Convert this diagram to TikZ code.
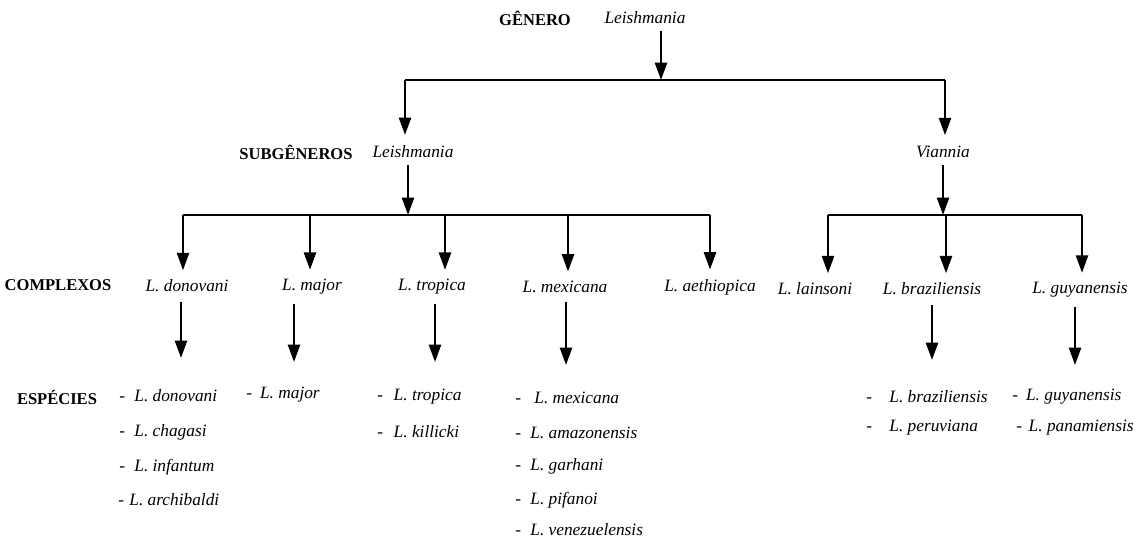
\documentclass[tikz,border=0pt]{standalone}
\usepackage{fontspec}
\setmainfont{Liberation Serif}
\usetikzlibrary{arrows.meta}
\begin{document}
\begin{tikzpicture}[x=0.75pt,y=-0.75pt,
  lbl/.style={font=\fontsize{12.4}{14}\selectfont\bfseries, inner sep=1pt},
  tx/.style={font=\fontsize{13}{15}\selectfont\itshape, inner sep=1pt},
  sp/.style={font=\fontsize{13}{15}\selectfont, anchor=west, inner sep=0pt},
  arr/.style={line width=1.8pt, -{Triangle[width=9pt,length=13pt]}},
  bus/.style={line width=1.6pt}]
\useasboundingbox (0,0) rectangle (1141,538);
% level labels
\node[lbl] (lg) at (535,18) {GÊNERO};
\node[lbl] (ls) at (296,152) {SUBGÊNEROS};
\node[lbl] (lc) at (58,285) {COMPLEXOS};
\node[lbl] (le) at (57,397) {ESPÉCIES};
% genus
\node[tx] (gen) at (645,18) {Leishmania};
\coordinate (j0) at (661,80);
\coordinate (jL) at (405,80);
\coordinate (jR) at (945,80);
\draw[arr] ([yshift=-4pt]gen.south -| j0) -- (j0);
\draw[bus] (jL) -- (jR);
% subgenera
\node[tx] (subL) at (413,152) {Leishmania};
\node[tx] (subV) at (943,152) {Viannia};
\draw[arr] (jL) -- (jL |- subL.north) [shorten >=7pt];
\draw[arr] (jR) -- (jR |- subV.north) [shorten >=7pt];
% buses for complexes
\coordinate (j1) at (408,215);
\coordinate (j2) at (943,215);
\draw[arr] ([yshift=-4pt]subL.south -| j1) -- (j1);
\draw[arr] ([yshift=-4pt]subV.south -| j2) -- (j2);
\coordinate (b1) at (183,215);
\coordinate (b2) at (310,215);
\coordinate (b3) at (445,215);
\coordinate (b4) at (568,215);
\coordinate (b5) at (710,215);
\coordinate (b6) at (828,215);
\coordinate (b7) at (946,215);
\coordinate (b8) at (1082,215);
\draw[bus] (b1) -- (b5);
\draw[bus] (b6) -- (b8);
% complexes
\node[tx] (c1) at (187,286) {L. donovani};
\node[tx] (c2) at (312,287) {L. major};
\node[tx] (c3) at (432,287) {L. tropica};
\node[tx] (c4) at (565,287) {L. mexicana};
\node[tx] (c5) at (710,287) {L. aethiopica};
\node[tx] (c6) at (815,289) {L. lainsoni};
\node[tx] (c7) at (932,289) {L. braziliensis};
\node[tx] (c8) at (1080,290) {L. guyanensis};
\foreach \i in {1,...,8}{
  \draw[arr] (b\i) -- (b\i |- c\i.north) [shorten >=6pt];
}
% species
\node[sp] (s1a) at (119,396) {-\hspace{7pt}\textit{L. donovani}};
\node[sp] (s1b) at (119,432) {-\hspace{7pt}\textit{L. chagasi}};
\node[sp] (s1c) at (119,467) {-\hspace{7pt}\textit{L. infantum}};
\node[sp] (s1d) at (118,500) {-\hspace{4pt}\textit{L. archibaldi}};
\node[sp] (s2a) at (246,395) {-\hspace{6pt}\textit{L. major}};
\node[sp] (s3a) at (377,397) {-\hspace{8pt}\textit{L. tropica}};
\node[sp] (s3b) at (377,432) {-\hspace{8pt}\textit{L. killicki}};
\node[sp] (s4a) at (515,398) {-\hspace{10pt}\textit{L. mexicana}};
\node[sp] (s4b) at (515,433) {-\hspace{7pt}\textit{L. amazonensis}};
\node[sp] (s4c) at (515,466) {-\hspace{7pt}\textit{L. garhani}};
\node[sp] (s4d) at (515,500) {-\hspace{7pt}\textit{L. pifanoi}};
\node[sp] (s4e) at (515,530) {-\hspace{7pt}\textit{L. venezuelensis}};
\node[sp] (s7a) at (866,397) {-\hspace{13pt}\textit{L. braziliensis}};
\node[sp] (s7b) at (866,428) {-\hspace{13pt}\textit{L. peruviana}};
\node[sp] (s8a) at (1012,397) {-\hspace{6pt}\textit{L. guyanensis}};
\node[sp] (s8b) at (1016,428) {-\hspace{5pt}\textit{L. panamiensis}};
% complex to species arrows
\coordinate (t1) at (181,358);
\coordinate (t2) at (294,362);
\coordinate (t3) at (435,362);
\coordinate (t4) at (566,365);
\coordinate (t7) at (932,360);
\coordinate (t8) at (1075,365);
\foreach \i in {1,2,3,4,7,8}{
  \draw[arr] ([yshift=-6pt]c\i.south -| t\i) -- (t\i);
}
\end{tikzpicture}
\end{document}
